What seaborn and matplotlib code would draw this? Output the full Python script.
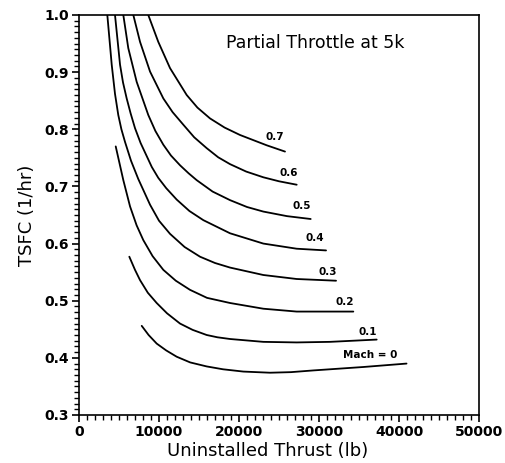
import numpy as np
import pandas as pd
import matplotlib
matplotlib.use("Agg")
import matplotlib.pyplot as plt
from matplotlib.ticker import MultipleLocator
import seaborn as sns

# Curves: uninstalled thrust (lb) vs TSFC (1/hr), one per Mach number
mach_07_x = [8660, 9910, 11380, 13460, 14800, 16380, 18200, 20130, 23460, 25750]
mach_07_y = [1.000, 0.953, 0.907, 0.860, 0.838, 0.819, 0.803, 0.790, 0.772, 0.761]

mach_06_x = [6790, 7630, 8880, 10540, 11700, 13040, 14400, 15960, 17400, 18880, 20900, 23040, 25000, 27210]
mach_06_y = [1.000, 0.953, 0.901, 0.854, 0.830, 0.808, 0.786, 0.767, 0.751, 0.739, 0.726, 0.716, 0.709, 0.703]

mach_05_x = [5540, 6160, 7210, 8660, 9550, 10540, 11500, 12630, 13700, 14710, 16700, 18880, 21000, 23040,
             26000, 28960]
mach_05_y = [1.000, 0.942, 0.883, 0.825, 0.797, 0.773, 0.754, 0.737, 0.723, 0.711, 0.691, 0.676, 0.664, 0.656,
             0.648, 0.643]

mach_04_x = [4500, 5130, 5500, 5960, 6450, 7000, 7700, 8400, 9100, 9910, 10900, 12210, 13800, 15540,
             18880, 23040, 27210, 30880]
mach_04_y = [1.000, 0.913, 0.882, 0.854, 0.828, 0.802, 0.776, 0.755, 0.734, 0.715, 0.697, 0.677, 0.657,
             0.641, 0.618, 0.600, 0.591, 0.588]

mach_03_x = [3540, 4090, 4500, 4910, 5300, 5750, 6500, 7410, 8880, 10000, 11380, 13200, 15130, 17000,
             18880, 23040, 27210, 32130]
mach_03_y = [1.000, 0.913, 0.862, 0.825, 0.800, 0.778, 0.745, 0.713, 0.668, 0.640, 0.617, 0.594, 0.577,
             0.566, 0.558, 0.545, 0.538, 0.535]

mach_02_x = [4590, 5540, 6380, 7200, 8040, 9200, 10540, 12100, 13880, 16000, 18880, 23040, 27210, 34290]
mach_02_y = [0.770, 0.711, 0.665, 0.632, 0.606, 0.578, 0.554, 0.535, 0.519, 0.505, 0.496, 0.486, 0.481,
             0.481]

mach_01_x = [6290, 7000, 7630, 8600, 9710, 11000, 12630, 14200, 15960, 17300, 18880, 23040, 27210,
             31380, 37210]
mach_01_y = [0.577, 0.554, 0.536, 0.514, 0.496, 0.478, 0.460, 0.449, 0.440, 0.436, 0.433, 0.428, 0.427,
             0.428, 0.432]

mach_00_x = [7840, 8700, 9710, 10900, 12210, 13900, 15960, 18000, 20540, 23880, 26500, 29290, 35540, 40940]
mach_00_y = [0.456, 0.440, 0.425, 0.413, 0.402, 0.392, 0.385, 0.380, 0.376, 0.374, 0.375, 0.378, 0.384, 0.390]

curve_names = ["0.7", "0.6", "0.5", "0.4", "0.3", "0.2", "0.1", "Mach = 0"]
curve_x = [mach_07_x, mach_06_x, mach_05_x, mach_04_x, mach_03_x, mach_02_x, mach_01_x, mach_00_x]
curve_y = [mach_07_y, mach_06_y, mach_05_y, mach_04_y, mach_03_y, mach_02_y, mach_01_y, mach_00_y]

# label anchor points (data coords, text centre)
label_x = [24500, 26170, 27830, 29500, 31100, 33250, 36080, 36460]
label_y = [0.786, 0.723, 0.665, 0.609, 0.551, 0.498, 0.445, 0.405]

# build long-form table for seaborn
rows = []
for name, xs, ys in zip(curve_names, curve_x, curve_y):
    for x, y in zip(xs, ys):
        rows.append({"mach": name, "thrust": x, "tsfc": y})
df = pd.DataFrame(rows)

sns.set_style("ticks")
plt.rcParams["font.family"] = ["DejaVu Sans"]
plt.rcParams["text.color"] = "black"
plt.rcParams["axes.labelcolor"] = "black"
plt.rcParams["xtick.color"] = "black"
plt.rcParams["ytick.color"] = "black"

fig = plt.figure(figsize=(5.05, 4.63), dpi=100)
ax = fig.add_axes([79 / 505, 1 - 415 / 463, 400 / 505, 400 / 463])

sns.lineplot(data=df, x="thrust", y="tsfc", hue="mach", units="mach", estimator=None,
             palette=["black"] * len(curve_names), legend=False, sort=False,
             linewidth=1.3, ax=ax)

for name, lx, ly in zip(curve_names, label_x, label_y):
    ax.text(lx, ly, name, ha="center", va="center", fontsize=7.5,
            fontweight="bold", color="black")

ax.text(29560, 0.951, "Partial Throttle at 5k", ha="center", va="center", fontsize=12.5)

ax.set_xlim(0, 50000)
ax.set_ylim(0.3, 1.0)
ax.xaxis.set_major_locator(MultipleLocator(10000))
ax.xaxis.set_minor_locator(MultipleLocator(1000))
ax.yaxis.set_major_locator(MultipleLocator(0.1))
ax.yaxis.set_minor_locator(MultipleLocator(0.01))
ax.set_yticks(np.arange(0.3, 1.01, 0.1))
ax.set_yticklabels([f"{v:.1f}" for v in np.arange(0.3, 1.01, 0.1)])

ax.tick_params(which="major", direction="out", length=5, width=1.2, labelsize=10, pad=2)
ax.tick_params(which="minor", direction="out", length=3.5, width=1.0)
for lab in ax.get_xticklabels() + ax.get_yticklabels():
    lab.set_fontweight("bold")

for side in ["top", "right", "left", "bottom"]:
    ax.spines[side].set_visible(True)
    ax.spines[side].set_linewidth(1.2)
    ax.spines[side].set_color("black")

ax.set_xlabel("Uninstalled Thrust (lb)", fontsize=13, labelpad=0)
ax.xaxis.set_label_coords(0.4725, -0.068)
ax.set_ylabel("TSFC (1/hr)", fontsize=13, labelpad=6)

fig.savefig("out.png", dpi=100)
